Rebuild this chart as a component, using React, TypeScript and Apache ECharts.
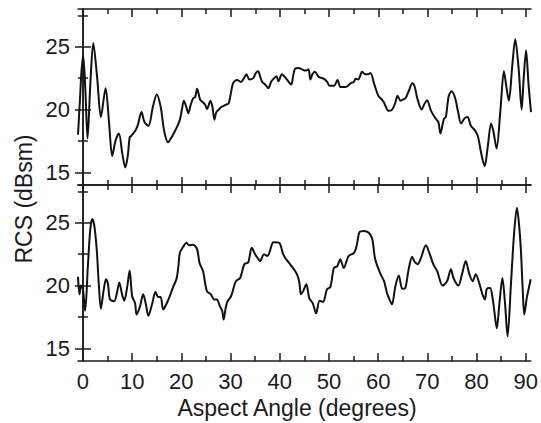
import React, { useEffect, useRef } from "react";
import * as echarts from "echarts";

const majorX = [0, 10, 20, 30, 40, 50, 60, 70, 80, 90];
const minorX = [5, 15, 25, 35, 45, 55, 65, 75, 85];
const majorY = [15, 20, 25];
const minorY = [17.5, 22.5, 27.5];

const topAngles = [
  -1, -0.6, -0.3, 0.05, 0.5, 0.94, 1.5, 2.1, 2.9, 3.65, 4.6, 5.3, 5.95, 6.6, 7.3, 8.0, 8.6, 9.1, 9.5, 9.8,
  10.2, 10.6, 11.1, 11.9, 12.5, 13.3, 14.2, 15.0, 15.8, 16.5, 17.3, 18.0, 18.7, 19.2, 19.7, 20.1, 20.5, 21.0,
  21.4, 21.9, 22.4, 22.8, 23.2, 23.8, 24.3, 24.8, 25.2, 25.9, 26.3, 26.7, 27.1, 27.6, 28.1, 28.6, 29.1, 29.6,
  30.0, 30.5, 31.3, 32.1, 32.7, 33.2, 33.8, 34.6, 35.1, 35.6, 36.0, 36.4, 37.0, 37.7, 38.2, 38.6, 39.3, 39.7,
  40.4, 41.0, 41.4, 42.3, 42.7, 43.1, 43.8, 44.5, 45.2, 45.8, 46.2, 46.6, 47.1, 47.9, 49.0, 49.6, 50.1, 51.0,
  51.7, 52.3, 53.4, 54.4, 55.0, 55.4, 55.9, 56.7, 57.3, 57.8, 58.4, 59.1, 60.0, 60.7, 61.1, 61.5, 62.0, 62.8,
  63.4, 63.9, 64.5, 65.0, 65.5, 66.2, 66.9, 67.4, 67.9, 68.8, 69.3, 69.9, 70.7, 71.7, 72.2, 72.6, 73.3, 73.7,
  74.3, 74.9, 75.6, 76.2, 76.8, 77.5, 78.1, 78.8, 79.5, 80.2, 80.9, 81.6, 82.2, 82.9, 83.4, 84.0, 84.8, 85.5,
  86.0, 86.5, 87.2, 87.8, 88.5, 89.1, 89.5, 90.0, 90.5, 91,
];
const topRcs = [
  18.0, 20.8, 23.0, 24.3, 21.5, 17.7, 22.0, 25.3, 22.5, 19.4, 21.7, 19.0, 16.3, 17.5, 18.1, 16.5, 15.4, 16.3, 17.8, 17.9,
  18.1, 18.3, 18.7, 19.8, 19.0, 18.7, 20.2, 21.2, 20.2, 18.3, 17.4, 17.8, 18.3, 18.7, 19.2, 20.0, 20.7, 20.2,
  19.7, 20.4, 20.9, 21.0, 21.65, 20.8, 20.6, 20.4, 20.05, 20.7, 20.2, 19.2, 19.8, 20.0, 20.2, 20.3, 20.4, 20.5,
  21.2, 22.1, 22.35, 22.2, 22.5, 22.8, 22.4, 22.5, 22.9, 23.05, 22.6, 22.2, 22.0, 21.7, 22.2, 22.4, 22.65, 22.25,
  22.8, 22.6, 22.4, 22.0, 22.7, 23.25, 23.3, 23.2, 23.1, 23.2, 22.4, 22.8, 23.0, 22.6, 22.45, 22.2, 21.9, 21.9,
  22.35, 21.8, 21.8, 22.1, 22.2, 22.45, 22.4, 23.0, 22.8, 22.8, 22.9, 22.1, 21.1, 20.8, 20.6, 20.25, 19.9, 20.0,
  20.5, 21.1, 20.7, 20.8, 20.9, 21.5, 22.1, 21.8, 20.9, 20.0, 20.4, 20.75, 19.9, 19.25, 19.0, 18.1, 19.25, 19.4,
  21.1, 21.45, 20.9, 19.8, 18.9, 19.3, 19.4, 18.7, 18.4, 17.9, 16.5, 15.5, 17.0, 18.9, 18.2, 16.9, 20.0, 23.05,
  21.8, 20.7, 23.5, 25.6, 23.2, 20.0, 22.4, 24.7, 22.0, 19.8,
];

const bottomAngles = [
  -1, -0.7, -0.4, 0.0, 0.45, 1.0, 1.5, 1.9, 2.3, 2.8, 3.2, 3.65, 4.2, 4.7, 5.1, 5.5, 6.35, 6.9, 7.4, 7.9,
  8.4, 9.0, 9.5, 10.0, 10.6, 10.9, 11.6, 12.25, 12.8, 13.3, 14.1, 14.75, 15.3, 15.8, 16.3, 16.8, 17.5, 18.35,
  19.0, 19.4, 19.7, 20.4, 21.05, 21.6, 22.4, 23.2, 23.7, 24.4, 25.2, 26.0, 26.7, 27.2, 27.9, 28.3, 28.6, 29.0,
  29.4, 30.1, 31.1, 31.95, 32.8, 33.6, 34.3, 35.0, 35.5, 36.0, 36.8, 37.5, 38.05, 38.7, 39.9, 40.6, 41.1, 42.1,
  43.5, 44.0, 44.3, 44.8, 45.4, 46.0, 46.7, 47.4, 48.1, 48.8, 49.6, 50.3, 51.0, 51.7, 52.3, 53.0, 54.0, 55.1,
  55.7, 56.2, 57.1, 58.1, 58.8, 59.4, 60.5, 61.2, 61.8, 62.3, 62.8, 63.5, 64.2, 64.9, 65.5, 66.2, 66.9, 67.4,
  68.0, 68.7, 69.7, 70.4, 71.2, 72.0, 73.1, 74.0, 74.8, 75.3, 76.3, 77.1, 77.8, 78.5, 79.2, 79.85, 80.5, 81.2,
  81.7, 82.1, 82.75, 83.2, 83.6, 84.1, 84.7, 85.25, 85.8, 86.3, 87.0, 87.6, 88.2, 88.6, 89.0, 89.4, 89.7, 90.2,
  90.7, 91,
];
const bottomRcs = [
  20.7, 19.3, 20.0, 19.7, 18.0, 21.5, 24.5, 25.3, 24.8, 22.9, 20.3, 18.15, 19.6, 20.5, 20.1, 18.9, 18.75, 19.4, 20.25, 19.4,
  18.8, 19.9, 21.2, 19.15, 18.6, 17.7, 18.35, 19.3, 18.5, 17.6, 18.6, 19.5, 19.1, 19.1, 18.1, 18.4, 19.0, 19.9,
  20.5, 21.5, 22.6, 23.1, 23.4, 23.2, 23.25, 22.9, 21.8, 21.15, 19.55, 19.3, 18.9, 18.9, 18.3, 18.0, 17.3, 18.2,
  18.75, 19.15, 20.35, 20.6, 21.7, 21.85, 23.0, 22.5, 22.2, 21.95, 22.5, 22.35, 22.8, 23.45, 23.4, 22.6, 22.2, 21.7,
  20.9, 20.2, 19.3, 19.6, 20.1, 19.0, 18.6, 17.8, 18.8, 18.7, 19.7, 19.9, 21.4, 21.55, 22.1, 21.4, 22.35, 22.6,
  23.3, 24.25, 24.35, 24.2, 23.7, 22.1, 20.9, 20.35, 19.4, 18.9, 18.5, 19.95, 20.8, 19.75, 19.8, 21.3, 22.3, 21.9,
  21.7, 22.2, 23.2, 22.6, 21.7, 21.15, 20.0, 20.35, 21.3, 20.6, 20.0, 21.0, 21.95, 20.95, 20.35, 20.9, 20.25, 19.3,
  18.9, 19.75, 19.8, 19.15, 18.0, 16.6, 18.8, 20.6, 18.5, 15.95, 20.2, 24.0, 26.2, 25.0, 22.9, 19.5, 17.7, 19.0,
  19.95, 20.5,
];

const FONT = "'Liberation Sans', Arial, sans-serif";
const INK = "#1a1a1a";

function pairs(xs: number[], ys: number[]) {
  return xs.map((x, i) => [x, ys[i]]);
}

export default function App() {
  const ref = useRef<HTMLDivElement>(null);
  useEffect(() => {
    if (!ref.current) return;
    const chart = echarts.init(ref.current, undefined, { renderer: "svg" });
    const grids = [
      { left: 78, top: 9, width: 453, height: 176 },
      { left: 78, top: 185, width: 453, height: 176 },
    ];
    const lineStyle = { color: INK, width: 1.5 };
    const xAxes: any[] = [];
    const yAxes: any[] = [];
    grids.forEach((_, g) => {
      const baseX = {
        type: "value",
        gridIndex: g,
        min: -1,
        max: 91,
        splitLine: { show: false },
      };
      xAxes.push({
        ...baseX,
        position: "bottom",
        axisLine: { show: true, lineStyle },
        axisTick: { show: true, inside: true, length: 8, customValues: majorX, lineStyle },
        axisLabel: {
          show: g === 1,
          customValues: majorX,
          margin: 9,
          fontSize: 22,
          fontFamily: FONT,
          color: INK,
        },
      });
      xAxes.push({
        ...baseX,
        position: "top",
        axisLine: { show: true, lineStyle },
        axisTick: { show: true, inside: true, length: 8, customValues: majorX, lineStyle },
        axisLabel: { show: false },
      });
      xAxes.push({
        ...baseX,
        position: "bottom",
        axisLine: { show: false },
        axisTick: { show: true, inside: true, length: 5, customValues: minorX, lineStyle },
        axisLabel: { show: false },
      });
      xAxes.push({
        ...baseX,
        position: "top",
        axisLine: { show: false },
        axisTick: { show: true, inside: true, length: 5, customValues: minorX, lineStyle },
        axisLabel: { show: false },
      });
      const baseY = {
        type: "value",
        gridIndex: g,
        min: 14,
        max: 28,
        splitLine: { show: false },
      };
      yAxes.push({
        ...baseY,
        position: "left",
        axisLine: { show: true, lineStyle },
        axisTick: { show: true, inside: true, length: 8, customValues: majorY, lineStyle },
        axisLabel: {
          show: true,
          customValues: majorY,
          margin: 8,
          fontSize: 22,
          fontFamily: FONT,
          color: INK,
        },
      });
      yAxes.push({
        ...baseY,
        position: "right",
        axisLine: { show: true, lineStyle },
        axisTick: { show: true, inside: true, length: 8, customValues: majorY, lineStyle },
        axisLabel: { show: false },
      });
      yAxes.push({
        ...baseY,
        position: "left",
        axisLine: { show: false },
        axisTick: { show: true, inside: true, length: 5, customValues: minorY, lineStyle },
        axisLabel: { show: false },
      });
      yAxes.push({
        ...baseY,
        position: "right",
        axisLine: { show: false },
        axisTick: { show: true, inside: true, length: 5, customValues: minorY, lineStyle },
        axisLabel: { show: false },
      });
    });

    const seriesStyle = {
      type: "line",
      showSymbol: false,
      smooth: 0.3,
      lineStyle: { color: "#111", width: 2 },
      z: 3,
    };

    chart.setOption({
      animation: false,
      grid: grids,
      xAxis: xAxes,
      yAxis: yAxes,
      series: [
        { ...seriesStyle, name: "top", xAxisIndex: 0, yAxisIndex: 0, data: pairs(topAngles, topRcs) },
        { ...seriesStyle, name: "bottom", xAxisIndex: 4, yAxisIndex: 4, data: pairs(bottomAngles, bottomRcs) },
      ],
      graphic: [
        {
          type: "text",
          x: 24,
          y: 199,
          rotation: Math.PI / 2,
          style: {
            text: "RCS (dBsm)",
            fontSize: 23,
            fontFamily: FONT,
            fill: INK,
            align: "center",
            verticalAlign: "middle",
          },
        },
        {
          type: "text",
          x: 297,
          y: 408,
          style: {
            text: "Aspect Angle (degrees)",
            fontSize: 23,
            fontFamily: FONT,
            fill: INK,
            align: "center",
            verticalAlign: "middle",
          },
        },
      ],
    });
    return () => chart.dispose();
  }, []);
  return (
    <div
      ref={ref}
      style={{ position: "fixed", left: 0, top: 0, width: 541, height: 423, background: "#fff" }}
    />
  );
}
